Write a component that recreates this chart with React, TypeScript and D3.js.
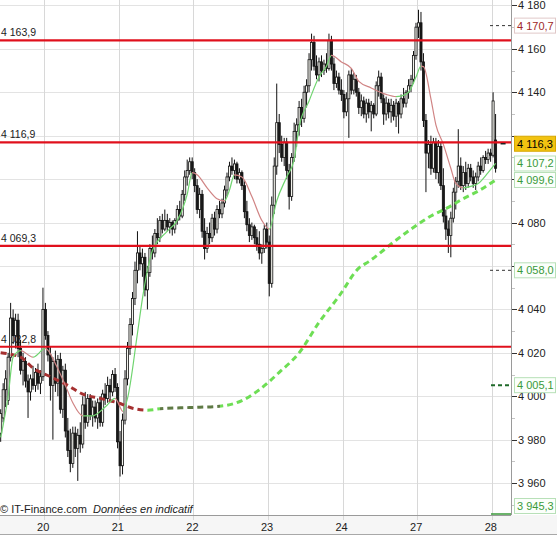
import React from 'react';
import * as d3 from 'd3';

// [open, high, low, close] per 15-min bar
const candles: [number, number, number, number][] = [
  [3983, 3994, 3979, 3992], [3990, 4006, 3988, 4003], [4003, 4012, 3995, 4008], [3998, 4020, 3996, 4018],
  [4018, 4043, 4016, 4036], [4036, 4040, 4024, 4028], [4028, 4038, 4022, 4035], [4035, 4038, 4018, 4022],
  [4022, 4026, 4010, 4012], [4012, 4020, 4005, 4016], [4016, 4018, 4004, 4007], [4007, 4010, 3990, 4002],
  [4002, 4010, 3998, 4008], [4008, 4014, 4003, 4005], [4005, 4013, 4002, 4011], [4011, 4015, 4003, 4006],
  [4006, 4012, 4001, 4009], [4009, 4050, 4007, 4040],
  // day 20
  [4040, 4043, 4026, 4028], [4028, 4030, 4016, 4019], [4019, 4023, 3998, 4005], [4005, 4018, 3980, 4016],
  [4016, 4021, 4002, 4006], [4006, 4019, 4000, 4017], [4017, 4020, 3992, 3994], [3994, 4014, 3990, 4012],
  [4012, 4015, 3981, 3984], [3984, 3990, 3972, 3975], [3975, 3985, 3965, 3969], [3969, 3986, 3967, 3983],
  [3983, 3986, 3972, 3976], [3976, 3985, 3961, 3982], [3982, 3988, 3974, 3978], [3978, 4000, 3976, 3996],
  [3996, 4002, 3985, 3988], [3988, 4001, 3986, 3999], [3999, 4001, 3989, 3991], [3991, 3998, 3986, 3995],
  [3995, 3998, 3988, 3990], [3990, 3999, 3985, 3997], [3997, 4000, 3986, 3988], [3988, 4003, 3986, 4001],
  [4001, 4006, 3996, 3999], [3999, 4009, 3997, 4005], [4005, 4008, 3998, 4002], [4002, 4012, 4000, 4010],
  [4010, 4013, 4002, 4004], [4004, 4006, 3976, 3979],
  // day 21
  [3979, 3984, 3963, 3968], [3968, 3992, 3964, 3989], [3989, 4012, 3987, 4008], [4008, 4025, 4005, 4022],
  [4022, 4036, 4019, 4033], [4033, 4048, 4028, 4045], [4045, 4062, 4042, 4058], [4058, 4076, 4052, 4066],
  [4066, 4069, 4058, 4061], [4061, 4068, 4055, 4064], [4064, 4066, 4046, 4049], [4049, 4060, 4040, 4057],
  [4057, 4070, 4055, 4068], [4068, 4074, 4063, 4066], [4066, 4077, 4064, 4075], [4075, 4082, 4070, 4073],
  [4073, 4083, 4071, 4081], [4081, 4084, 4075, 4077], [4077, 4086, 4076, 4081], [4081, 4084, 4076, 4078],
  [4078, 4082, 4075, 4080], [4080, 4081, 4074, 4077], [4077, 4082, 4075, 4081], [4081, 4088, 4079, 4086],
  [4086, 4090, 4081, 4083], [4083, 4095, 4082, 4093], [4093, 4104, 4090, 4101], [4101, 4109, 4097, 4104],
  [4104, 4110, 4102, 4108], [4108, 4110, 4100, 4103],
  // day 22
  [4103, 4105, 4094, 4097], [4097, 4100, 4084, 4086], [4086, 4096, 4082, 4093], [4093, 4095, 4073, 4076],
  [4076, 4082, 4063, 4068], [4068, 4078, 4066, 4075], [4075, 4080, 4070, 4073], [4073, 4084, 4071, 4082],
  [4082, 4085, 4074, 4077], [4077, 4088, 4075, 4086], [4086, 4090, 4082, 4084], [4084, 4091, 4082, 4089],
  [4089, 4097, 4087, 4095], [4095, 4103, 4092, 4101], [4101, 4108, 4099, 4106], [4106, 4110, 4102, 4104],
  [4104, 4109, 4100, 4107], [4107, 4108, 4098, 4100], [4100, 4105, 4098, 4103], [4103, 4104, 4095, 4097],
  [4097, 4099, 4082, 4085], [4085, 4090, 4076, 4079], [4079, 4082, 4071, 4074], [4074, 4080, 4072, 4078],
  [4078, 4079, 4070, 4073], [4073, 4077, 4067, 4070], [4070, 4076, 4063, 4066], [4066, 4070, 4061, 4068],
  [4068, 4079, 4066, 4077], [4077, 4080, 4068, 4071],
  // day 23
  [4071, 4074, 4046, 4052], [4052, 4092, 4050, 4088], [4088, 4110, 4084, 4106], [4106, 4144, 4102, 4126],
  [4126, 4130, 4112, 4116], [4116, 4120, 4108, 4110], [4110, 4119, 4106, 4117], [4117, 4119, 4100, 4104],
  [4104, 4107, 4086, 4092], [4092, 4112, 4090, 4110], [4110, 4126, 4108, 4122], [4122, 4128, 4115, 4125],
  [4125, 4136, 4120, 4133], [4133, 4137, 4124, 4128], [4128, 4143, 4126, 4140], [4140, 4146, 4133, 4143],
  [4143, 4158, 4140, 4155], [4155, 4167, 4150, 4163], [4163, 4166, 4150, 4152], [4152, 4157, 4146, 4148],
  [4148, 4156, 4145, 4154], [4154, 4157, 4147, 4150], [4150, 4155, 4148, 4153], [4153, 4158, 4149, 4151],
  [4151, 4167, 4150, 4164], [4164, 4166, 4150, 4153], [4153, 4156, 4141, 4144], [4144, 4150, 4142, 4147],
  [4147, 4149, 4139, 4141], [4141, 4146, 4136, 4139],
  // day 24
  [4139, 4141, 4128, 4131], [4131, 4140, 4129, 4137], [4137, 4150, 4119, 4148], [4148, 4151, 4139, 4141],
  [4141, 4149, 4139, 4146], [4146, 4148, 4138, 4140], [4140, 4142, 4130, 4133], [4133, 4139, 4129, 4136],
  [4136, 4138, 4128, 4130], [4130, 4137, 4126, 4135], [4135, 4137, 4128, 4131], [4131, 4136, 4122, 4134],
  [4134, 4135, 4128, 4130], [4130, 4145, 4129, 4143], [4143, 4150, 4138, 4147], [4147, 4149, 4135, 4137],
  [4137, 4139, 4125, 4130], [4130, 4138, 4127, 4135], [4135, 4137, 4128, 4131], [4131, 4137, 4126, 4134],
  [4134, 4136, 4127, 4129], [4129, 4137, 4124, 4135], [4135, 4136, 4121, 4130], [4130, 4139, 4128, 4137],
  [4137, 4142, 4133, 4135], [4135, 4141, 4133, 4140], [4140, 4146, 4137, 4143], [4143, 4148, 4140, 4146],
  [4146, 4159, 4144, 4157], [4157, 4172, 4155, 4170],
  // day 27
  [4170, 4178, 4165, 4172], [4172, 4177, 4150, 4154], [4154, 4158, 4124, 4127], [4127, 4130, 4094, 4112],
  [4112, 4118, 4105, 4116], [4116, 4120, 4102, 4105], [4105, 4119, 4103, 4117], [4117, 4119, 4100, 4103],
  [4103, 4118, 4098, 4115], [4115, 4117, 4095, 4097], [4097, 4105, 4080, 4083], [4083, 4086, 4072, 4077],
  [4077, 4081, 4066, 4074], [4074, 4085, 4064, 4082], [4082, 4096, 4080, 4094], [4094, 4101, 4086, 4099],
  [4099, 4123, 4096, 4106], [4106, 4110, 4095, 4097], [4097, 4106, 4094, 4103], [4103, 4108, 4095, 4098],
  [4098, 4107, 4096, 4105], [4105, 4107, 4099, 4101], [4101, 4104, 4096, 4098], [4098, 4103, 4095, 4101],
  [4101, 4108, 4099, 4106], [4106, 4110, 4102, 4104], [4104, 4111, 4103, 4110], [4110, 4113, 4107, 4109],
  [4109, 4114, 4107, 4112], [4112, 4114, 4108, 4111],
  // day 28
  [4111, 4140, 4110, 4136], [4118, 4130, 4103, 4105],
];

const dayStartIdx = [18, 48, 78, 108, 138, 168, 198];
const dayLabels = ['20', '21', '22', '23', '24', '27', '28'];
const yTickValues = [3960, 3980, 4000, 4020, 4040, 4060, 4080, 4100, 4120, 4140, 4160, 4180];
const levelValues = [4163.9, 4116.9, 4069.3, 4022.8];

// short moving average [bar index, value]
const shortMa: [number, number][] = [
  [0, 3981], [3, 4000], [5, 4018], [8, 4021], [13, 4018], [18, 4022], [22, 4015], [26, 4005], [29, 3997],
  [33, 3991], [37, 3991], [42, 3995], [46, 3999], [48, 3995], [49, 3993], [51, 3999], [55, 4029], [57, 4045],
  [61, 4067], [67, 4076], [71, 4081], [75, 4093], [77, 4103], [79, 4102], [83, 4096], [87, 4091], [90, 4090],
  [92, 4095], [94, 4102], [97, 4101], [101, 4092], [105, 4081], [108, 4077], [111, 4090], [115, 4101],
  [118, 4109], [120, 4124], [124, 4136], [128, 4147], [131, 4152], [133, 4157], [137, 4154], [141, 4151],
  [144, 4145], [149, 4142], [155, 4139], [159, 4138], [161, 4138.2], [164, 4140], [167, 4147], [169, 4152],
  [170, 4151.8], [173, 4137], [175, 4125], [178, 4116], [181, 4105], [183, 4098], [186, 4096], [190, 4097],
  [192, 4098], [196, 4103], [199, 4107.2],
];

// long moving average [bar index, value]
const longMa: [number, number][] = [
  [0, 4020], [8, 4018], [13, 4013], [20, 4009], [27, 4005], [33, 4001], [40, 3999], [47, 3997], [53, 3994.5],
  [59, 3993.6], [64, 3994.2], [76, 3994.8], [88, 3995.4], [97, 3998], [104, 4003], [112, 4011], [120, 4020],
  [128, 4034], [136, 4046], [144, 4059], [148, 4062], [158, 4071], [165, 4077], [173, 4083], [180, 4087],
  [186, 4091], [192, 4094.5], [199, 4099.6],
];

const markerValues = [4170.7, 4116.3, 4107.2, 4099.6, 4058.0, 4005.1, 3945.3];
const markerKinds = ['high', 'last', 'ma', 'ma', 'band', 'band2', 'low'];
const lastPrice = 4116.3;

const FONT = "'Liberation Sans', Arial, sans-serif";

export default function App() {
  const plotR = 511;
  const plotB = 515;
  const x = d3.scaleLinear().domain([-0.2734, 205.2]).range([0, plotR]);
  const y = d3.scaleLinear().domain([3945.3, 4182.5]).range([plotB, 0]);
  const loc = d3.formatLocale({ decimal: ',', thousands: ' ', grouping: [3], currency: ['', ''] });
  const f0 = loc.format(',.0f');
  const f1 = loc.format(',.1f');

  const lineGen = d3
    .line<[number, number]>()
    .x((d) => x(d[0]))
    .y((d) => y(d[1]))
    .curve(d3.curveMonotoneX);

  const stops = (pts: [number, number][], up: string, down: string, flat?: string) => {
    const out: { off: number; c: string }[] = [];
    for (let k = 0; k < pts.length - 1; k++) {
      const dv = pts[k + 1][1] - pts[k][1];
      const slope = dv / (pts[k + 1][0] - pts[k][0]);
      let c = dv >= 0 ? up : down;
      if (flat && Math.abs(slope) < 0.06) c = flat;
      out.push({ off: x(pts[k][0]) / plotR, c });
      out.push({ off: x(pts[k + 1][0]) / plotR, c });
    }
    return out;
  };

  const shortStops = stops(shortMa, '#6fd46f', '#d08484');
  const longStops = stops(longMa, '#6ede55', '#a53030', '#5f7a45');

  const bw = 2.1;
  const minorTicks = yTickValues.map((v) => v - 10);
  const gridDayX = dayStartIdx.map((i) => x(i - 0.5));
  const boxYs = markerValues.map((v) => Math.min(y(v), 506));
  const tickHidden = (v: number) => boxYs.some((by) => Math.abs(by - y(v)) < 10);

  const markerStyle = (k: string) => {
    switch (k) {
      case 'high':
        return { fill: '#fff', stroke: '#e0c8c8', text: '#a02828' };
      case 'last':
        return { fill: '#f2c311', stroke: '#d6a700', text: '#000' };
      default:
        return { fill: '#fbfffb', stroke: '#b8e0b8', text: '#3a9a3a' };
    }
  };

  return (
    <svg
      width={557}
      height={543}
      style={{ position: 'absolute', left: 0, top: 0, background: '#fff' }}
      fontFamily={FONT}
    >
      <defs>
        <linearGradient id="gShort" gradientUnits="userSpaceOnUse" x1={0} y1={0} x2={plotR} y2={0}>
          {shortStops.map((s, i) => (
            <stop key={i} offset={s.off} stopColor={s.c} />
          ))}
        </linearGradient>
        <linearGradient id="gLong" gradientUnits="userSpaceOnUse" x1={0} y1={0} x2={plotR} y2={0}>
          {longStops.map((s, i) => (
            <stop key={i} offset={s.off} stopColor={s.c} />
          ))}
        </linearGradient>
      </defs>

      {/* bottom strip */}
      <rect x={0} y={plotB} width={557} height={20} fill="#f6f6f6" />
      <line x1={0} x2={557} y1={534.5} y2={534.5} stroke="#a8a8a8" />

      {/* grid */}
      {yTickValues.map((v) => (
        <line key={'h' + v} x1={0} x2={plotR} y1={Math.round(y(v)) + 0.5} y2={Math.round(y(v)) + 0.5} stroke="#e3e3e3" />
      ))}
      {gridDayX.map((gx, i) => (
        <line key={'v' + i} x1={Math.round(gx) + 0.5} x2={Math.round(gx) + 0.5} y1={0} y2={plotB + 5} stroke="#d8d8d8" />
      ))}

      {/* axes */}
      <line x1={plotR + 0.5} x2={plotR + 0.5} y1={0} y2={plotB} stroke="#9a9a9a" />
      <line x1={0} x2={plotR} y1={plotB + 0.5} y2={plotB + 0.5} stroke="#9a9a9a" />
      {minorTicks.map((v) => (
        <line key={'m' + v} x1={plotR + 1} x2={plotR + 4} y1={Math.round(y(v)) + 0.5} y2={Math.round(y(v)) + 0.5} stroke="#c4c4c4" />
      ))}
      {yTickValues.map((v) => (
        <g key={'t' + v}>
          <line x1={plotR + 1} x2={plotR + 6} y1={Math.round(y(v)) + 0.5} y2={Math.round(y(v)) + 0.5} stroke="#333" />
          {!tickHidden(v) && (
            <text x={plotR + 7} y={y(v) + 4} fontSize={11} fill="#222">
              {f0(v)}
            </text>
          )}
        </g>
      ))}
      {dayLabels.map((d, i) => (
        <text key={'d' + d} x={gridDayX[i] - 1} y={531} fontSize={11} fill="#222" textAnchor="middle">
          {d}
        </text>
      ))}

      {/* level labels */}
      {levelValues.map((v) => (
        <text key={'ll' + v} x={1} y={y(v) - 4} fontSize={10.5} fill="#222">
          {f1(v)}
        </text>
      ))}

      {/* candles */}
      {candles.map((c, i) => {
        const [o, h, l, cl] = c;
        const cx = x(i);
        const upBar = cl >= o;
        const top = y(Math.max(o, cl));
        const bot = y(Math.min(o, cl));
        return (
          <g key={'c' + i}>
            <line x1={cx} x2={cx} y1={y(h)} y2={y(l)} stroke="#111" strokeWidth={1} />
            <rect
              x={cx - bw / 2}
              y={top}
              width={bw}
              height={Math.max(1, bot - top)}
              fill={upBar ? '#f4f4ee' : '#1a1a1a'}
              stroke="#111"
              strokeWidth={0.8}
            />
          </g>
        );
      })}

      {/* moving averages */}
      <path d={lineGen(longMa) || ''} fill="none" stroke="url(#gLong)" strokeWidth={3} strokeDasharray="6,4" />
      <path d={lineGen(shortMa) || ''} fill="none" stroke="url(#gShort)" strokeWidth={1.2} />

      {/* level lines */}
      {levelValues.map((v) => (
        <line key={'lv' + v} x1={0} x2={plotR} y1={y(v)} y2={y(v)} stroke="#e0101c" strokeWidth={2.2} />
      ))}

      {/* last price marker */}
      <line x1={x(199) + 5} x2={x(199) + 10} y1={y(lastPrice)} y2={y(lastPrice)} stroke="#222" strokeWidth={1.5} />

      {/* marker guide dashes */}
      {markerValues.map((v, i) => {
        const k = markerKinds[i];
        if (k === 'high' || k === 'band') {
          return (
            <line key={'g' + i} x1={490} x2={plotR} y1={y(v)} y2={y(v)} stroke="#333" strokeDasharray="3,3" />
          );
        }
        if (k === 'band2') {
          return (
            <line key={'g' + i} x1={491} x2={plotR} y1={y(v)} y2={y(v)} stroke="#1f6a2a" strokeWidth={2} strokeDasharray="4,3" />
          );
        }
        if (k === 'low') {
          return <line key={'g' + i} x1={491} x2={plotR} y1={plotB - 1} y2={plotB - 1} stroke="#3a9a3a" strokeWidth={1.5} />;
        }
        return null;
      })}

      {/* right side value boxes */}
      {markerValues.map((v, i) => {
        const st = markerStyle(markerKinds[i]);
        const cy = boxYs[i];
        return (
          <g key={'b' + i}>
            <rect x={514.5} y={cy - 7.5} width={41} height={15} fill={st.fill} stroke={st.stroke} />
            <text x={517} y={cy + 4} fontSize={11} fill={st.text}>
              {f1(v)}
            </text>
          </g>
        );
      })}

      {/* footer */}
      <text x={0} y={513} fontSize={11} fill="#222">
        © IT-Finance.com
        <tspan dx={6} fontStyle="italic">
          Données en indicatif
        </tspan>
      </text>
    </svg>
  );
}
